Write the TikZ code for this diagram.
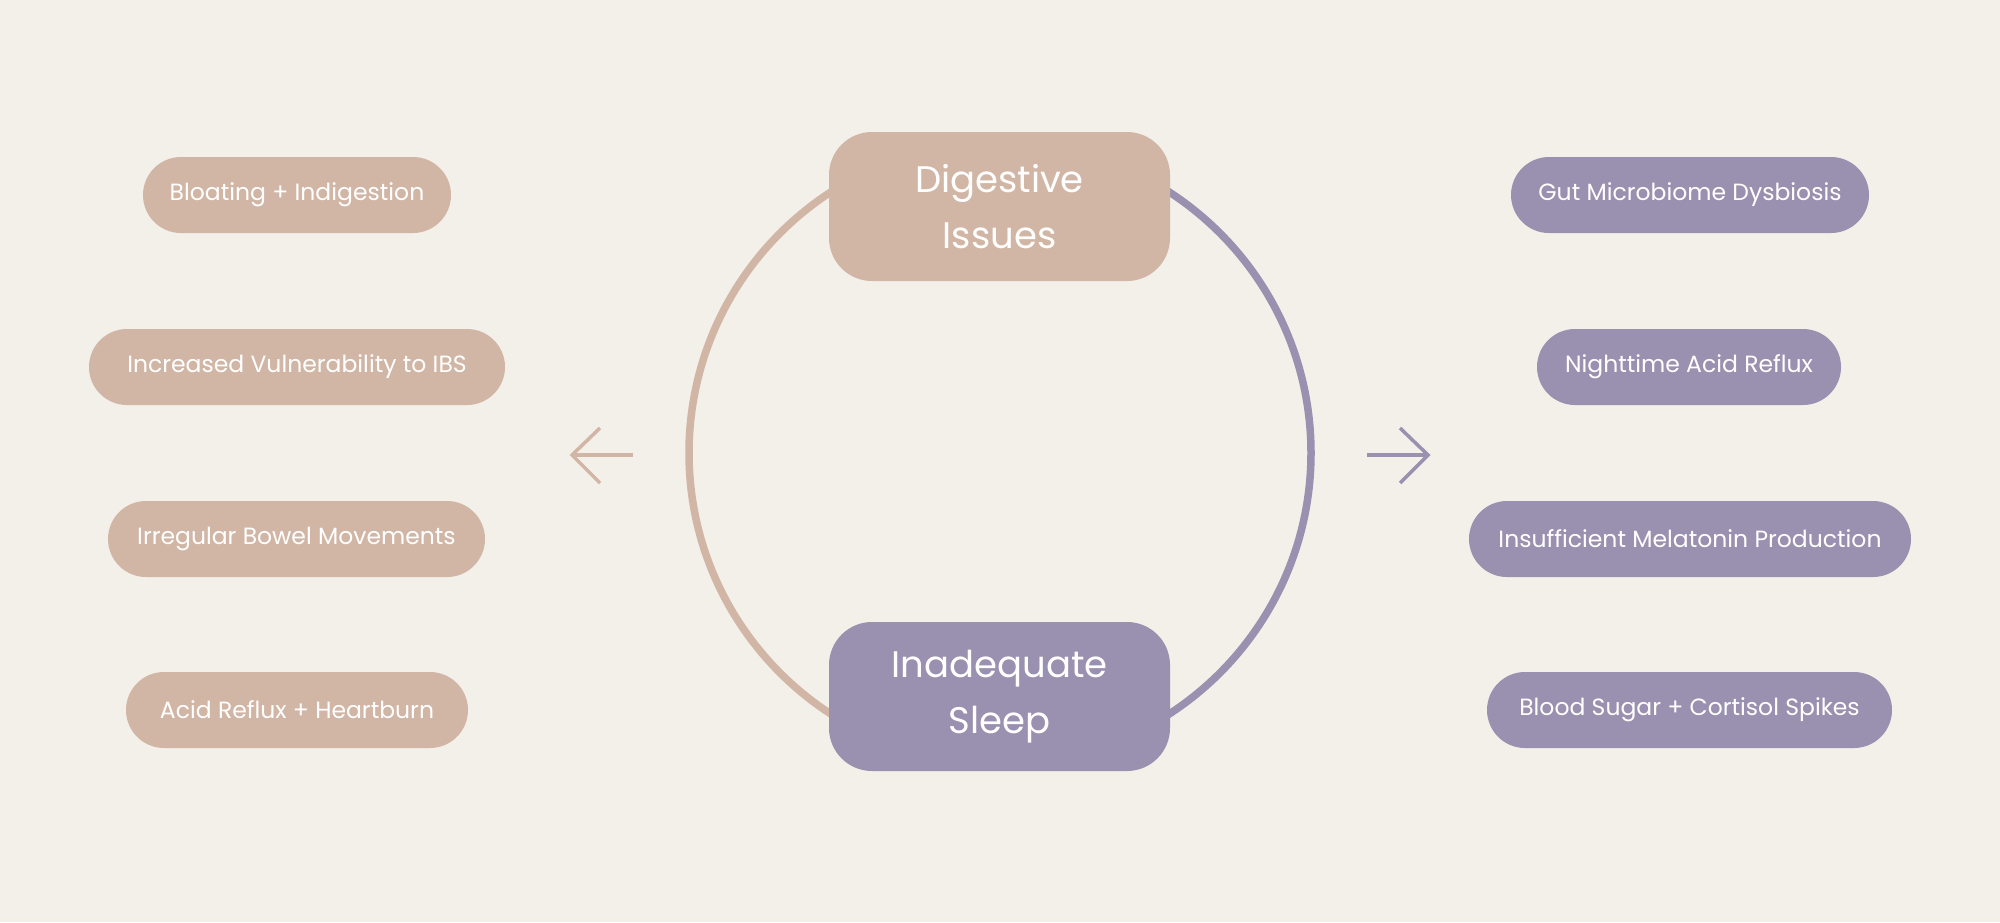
\documentclass[tikz,border=0pt]{standalone}
\usepackage{fontspec}
\setmainfont{Poppins}
\definecolor{bgc}{HTML}{F3EFE9}
\definecolor{tanc}{HTML}{D1B6A5}
\definecolor{purc}{HTML}{9A90AF}
\begin{document}
\begin{tikzpicture}[x=1pt,y=-1pt,
  pill/.style={rounded corners=38pt, minimum height=76pt, inner sep=0pt, text=white,
    font=\fontsize{23.5}{27}\selectfont, anchor=center},
  tanpill/.style={pill, fill=tanc},
  purpill/.style={pill, fill=purc},
  bigbox/.style={rounded corners=43pt, minimum width=341pt, minimum height=149pt, inner sep=0pt,
    text=white, align=center, font=\fontsize{37}{56}\selectfont},
  ring/.style={line width=7.5pt},
  chev/.style={line width=3.5pt}
]
\fill[bgc] (0,0) rectangle (2000,922);
\useasboundingbox (0,0) rectangle (2000,922);
\coordinate (c) at (1000,453);
% ring halves
\draw[ring, tanc] (c) ++(0,-311) arc[start angle=270, end angle=90, radius=311];
\draw[ring, purc] (c) ++(0,-311) arc[start angle=270, end angle=450, radius=311];
% central boxes
\node[bigbox, fill=tanc] (dig) at (999.5,206.5) {Digestive\\Issues};
\node[bigbox, fill=purc] (sleep) at (999.5,696.5) {Inadequate\\Sleep};
% arrows
\coordinate (la1) at (633,455);
\coordinate (la0) at (572,455);
\coordinate (lat) at (600,428);
\coordinate (lab) at (600,483);
\draw[chev, tanc] (la1) -- (la0);
\draw[chev, tanc, line join=miter] (lat) -- (la0) -- (lab);
\coordinate (ra1) at (1367,455);
\coordinate (ra0) at (1428,455);
\coordinate (rat) at (1400,428);
\coordinate (rab) at (1400,483);
\draw[chev, purc] (ra1) -- (ra0);
\draw[chev, purc, line join=miter] (rat) -- (ra0) -- (rab);
% left pills
\node[tanpill, minimum width=308pt] (l1) at (297,195) {Bloating + Indigestion};
\node[tanpill, minimum width=416pt] (l2) at (297,367) {Increased Vulnerability to IBS};
\node[tanpill, minimum width=377pt] (l3) at (296.5,539) {Irregular Bowel Movements};
\node[tanpill, minimum width=342pt] (l4) at (297,710) {Acid Reflux + Heartburn};
% right pills
\node[purpill, minimum width=358pt] (r1) at (1690,195) {Gut Microbiome Dysbiosis};
\node[purpill, minimum width=304pt] (r2) at (1689,367) {Nighttime Acid Reflux};
\node[purpill, minimum width=442pt] (r3) at (1690,539) {Insufficient Melatonin Production};
\node[purpill, minimum width=405pt] (r4) at (1689.5,710) {Blood Sugar + Cortisol Spikes};
\end{tikzpicture}
\end{document}
